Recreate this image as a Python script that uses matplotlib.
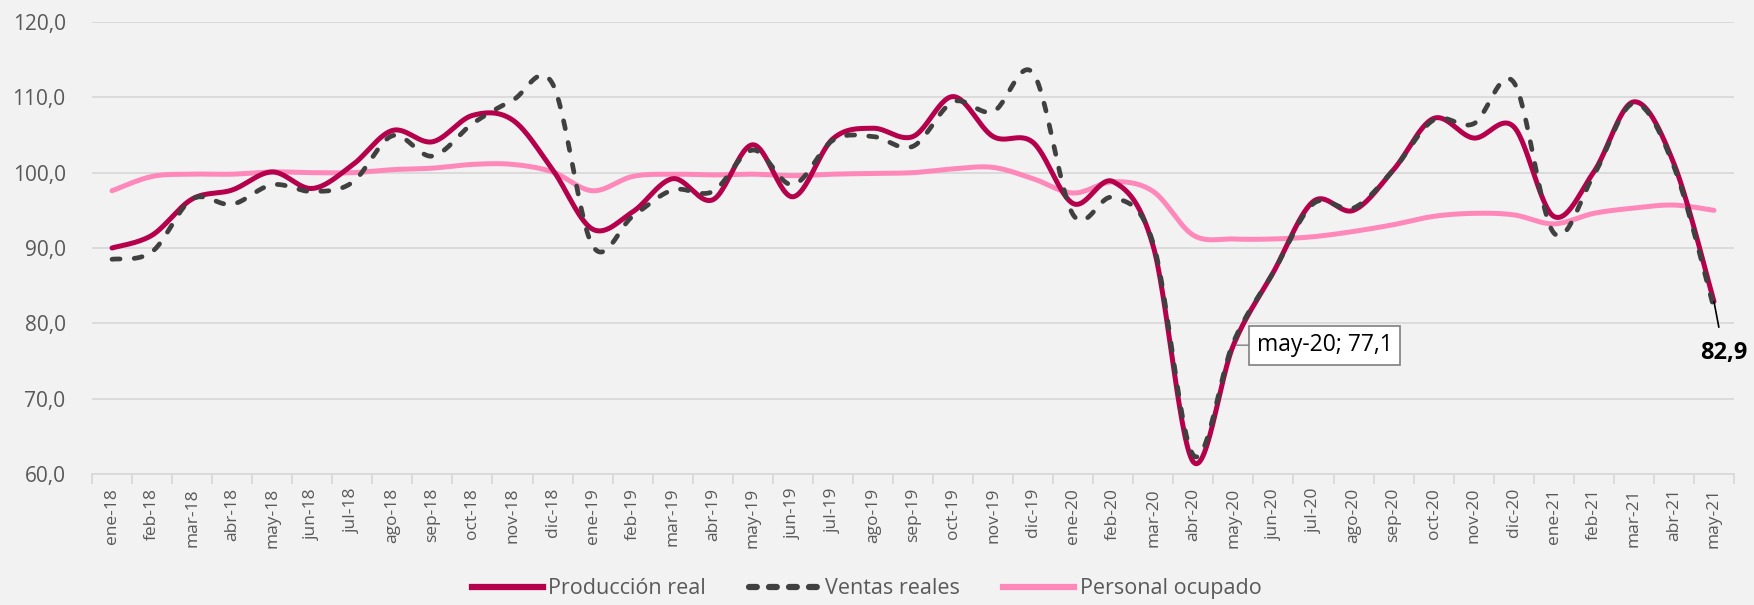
import numpy as np
import matplotlib
matplotlib.use("Agg")
import matplotlib.pyplot as plt
from matplotlib.lines import Line2D

plt.rcParams['font.family'] = ['Open Sans', 'DejaVu Sans']

meses = ["ene-18", "feb-18", "mar-18", "abr-18", "may-18", "jun-18", "jul-18", "ago-18",
         "sep-18", "oct-18", "nov-18", "dic-18", "ene-19", "feb-19", "mar-19", "abr-19",
         "may-19", "jun-19", "jul-19", "ago-19", "sep-19", "oct-19", "nov-19", "dic-19",
         "ene-20", "feb-20", "mar-20", "abr-20", "may-20", "jun-20", "jul-20", "ago-20",
         "sep-20", "oct-20", "nov-20", "dic-20", "ene-21", "feb-21", "mar-21", "abr-21",
         "may-21"]

produccion = [90.0, 91.7, 96.5, 97.7, 100.1, 97.9, 101.0, 105.6, 104.1, 107.6, 107.0,
              100.4, 92.5, 94.8, 99.2, 96.4, 103.7, 96.8, 104.5, 105.9, 104.8, 110.1,
              104.8, 104.0, 95.9, 98.8, 90.2, 61.6, 77.1, 86.8, 96.2, 95.0, 100.4, 107.2,
              104.6, 106.1, 94.2, 100.1, 109.4, 101.2, 82.9]

ventas = [88.5, 89.5, 96.5, 95.8, 98.4, 97.5, 98.7, 104.9, 102.2, 106.5, 109.6, 111.8,
          90.3, 94.2, 97.7, 97.5, 103.0, 98.4, 104.3, 104.8, 103.5, 109.4, 108.1, 113.2,
          94.4, 96.7, 90.6, 62.5, 77.5, 86.8, 95.9, 95.3, 100.4, 107.0, 106.5, 112.0,
          92.0, 99.7, 109.2, 100.8, 82.0]

personal = [97.6, 99.5, 99.8, 99.8, 100.1, 100.0, 100.0, 100.4, 100.6, 101.1, 101.1,
            100.1, 97.6, 99.5, 99.8, 99.7, 99.8, 99.6, 99.8, 99.9, 100.0, 100.5, 100.7,
            99.2, 97.3, 98.8, 97.5, 91.7, 91.2, 91.2, 91.5, 92.2, 93.1, 94.2, 94.6, 94.4,
            93.2, 94.6, 95.3, 95.7, 95.0]

series_names = ["Producción real", "Ventas reales", "Personal ocupado"]
yticks = [60, 70, 80, 90, 100, 110, 120]

C_PROD = "#B5004B"
C_VENT = "#404040"
C_PERS = "#FF88BB"
BG = "#F2F2F2"
GRID = "#D9D9D9"
TXT = "#595959"


def smooth(xs, ys, n=30):
    """Excel-like smoothed line (Catmull-Rom Bezier) through the data points."""
    P = np.column_stack([xs, ys]).astype(float)
    P_ext = np.vstack([P[0], P, P[-1]])
    out = []
    t = np.linspace(0, 1, n)[:, None]
    for i in range(len(P) - 1):
        p0, p1, p2, p3 = P_ext[i], P_ext[i + 1], P_ext[i + 2], P_ext[i + 3]
        c1 = p1 + (p2 - p0) / 6.0
        c2 = p2 - (p3 - p1) / 6.0
        seg = ((1 - t) ** 3) * p1 + 3 * ((1 - t) ** 2) * t * c1 + 3 * (1 - t) * t ** 2 * c2 + t ** 3 * p2
        out.append(seg if i == 0 else seg[1:])
    S = np.vstack(out)
    return S[:, 0], S[:, 1]


fig = plt.figure(figsize=(17.54, 6.05), dpi=100, facecolor=BG)
ax = fig.add_axes([92 / 1754, 1 - 474 / 605, (1734 - 92) / 1754, (474 - 22) / 605])
ax.set_facecolor(BG)

x = np.arange(len(meses))

xs, ys = smooth(x, personal)
l3, = ax.plot(xs, ys, color=C_PERS, lw=3.6, solid_capstyle='round', zorder=3)
xs, ys = smooth(x, produccion)
l1, = ax.plot(xs, ys, color=C_PROD, lw=3.6, solid_capstyle='round', zorder=4)
xs, ys = smooth(x, ventas)
l2, = ax.plot(xs, ys, color=C_VENT, lw=3.4, dashes=(1.7, 3.0), dash_capstyle='round', zorder=5)

ax.set_xlim(-0.5, len(meses) - 0.5)
ax.set_ylim(60, 120)
ax.set_yticks(yticks)
ax.set_yticklabels([f"{v:.1f}".replace(".", ",") for v in yticks])
ax.yaxis.grid(True, color=GRID, lw=1.3)
ax.set_axisbelow(True)
ax.tick_params(axis='y', length=0, pad=19, labelsize=15, labelcolor=TXT)

ax.set_xticks(x)
ax.set_xticklabels(meses, rotation=90)
ax.set_xticks(np.arange(-0.5, len(meses), 1.0), minor=True)
ax.tick_params(axis='x', which='major', length=0, pad=10, labelsize=12.5, labelcolor=TXT)
ax.tick_params(axis='x', which='minor', length=7, width=1.3, color=GRID)

for s in ['top', 'right', 'left']:
    ax.spines[s].set_visible(False)
ax.spines['bottom'].set_color(GRID)
ax.spines['bottom'].set_linewidth(1.3)

# data labels
i_may20 = meses.index("may-20")
ax.annotate(f"{meses[i_may20]}; {produccion[i_may20]:.1f}".replace(".", ","),
            xy=(i_may20, produccion[i_may20]), xytext=(17, 0), textcoords='offset points',
            ha='left', va='center', fontsize=16.5, color='black', zorder=10,
            bbox=dict(boxstyle='square,pad=0.33', fc='white', ec='#7F7F7F', lw=1.2),
            arrowprops=dict(arrowstyle='-', color='#7F7F7F', lw=1.0, shrinkA=0, shrinkB=2))

i_last = len(meses) - 1
ax.annotate(f"{produccion[i_last]:.1f}".replace(".", ","),
            xy=(i_last, produccion[i_last]), xytext=(7, -37), textcoords='offset points',
            ha='center', va='center', fontsize=17, fontweight='bold', color='black', zorder=10,
            arrowprops=dict(arrowstyle='-', color='black', lw=1.2, shrinkA=8, shrinkB=0))

handles = [Line2D([0], [0], color=C_PROD, lw=4.5),
           Line2D([0], [0], color=C_VENT, lw=4.5, dashes=(1.25, 1.95), dash_capstyle='round'),
           Line2D([0], [0], color=C_PERS, lw=4.5)]
leg = fig.legend(handles, series_names, loc='center', bbox_to_anchor=(0.494, 0.027),
                 ncol=3, frameon=False, fontsize=15.5, handlelength=3.3,
                 handletextpad=0.25, columnspacing=2.0)
for t in leg.get_texts():
    t.set_color(TXT)

fig.savefig("out.png", dpi=100, facecolor=BG)
